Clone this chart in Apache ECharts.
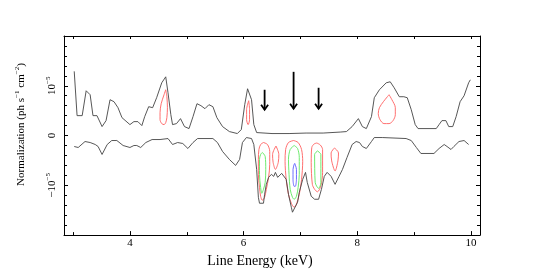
<!DOCTYPE html>
<html><head><meta charset="utf-8">
<script src="https://cdn.jsdelivr.net/npm/echarts@6/dist/echarts.min.js"></script>
<style>html,body{margin:0;padding:0;background:#fff}#c{width:545px;height:273px}</style>
</head><body><div id="c"></div>
<script>
// Energies in keV, normalizations in units of 1e-5 ph s^-1 cm^-2
const xMajorTicks = [4, 6, 8, 10];
const xMinorTicks = [3, 5, 7, 9];
const xTopTicks = [3, 4, 5, 6, 7, 8, 9, 10];
const yTickLabels = { '1': '10', '0': '0', '-1': '−10' };

const upperX = [3.02,3.07,3.16,3.23,3.30,3.35,3.42,3.51,3.58,3.65,3.72,3.79,3.86,4.00,4.07,4.14,4.21,4.26,4.33,4.40,4.47,4.56,4.63,4.67,4.72,4.75,4.82,4.89,4.96,5.04,5.11,5.18,5.25,5.32,5.39,5.46,5.53,5.63,5.75,5.89,5.96,6.02,6.07,6.14,6.18,6.23,6.5,6.8,7.1,7.4,7.7,7.81,7.91,8.02,8.09,8.16,8.25,8.30,8.39,8.51,8.58,8.65,8.74,8.82,8.88,8.95,9.02,9.07,9.39,9.44,9.49,9.56,9.61,9.68,9.74,9.81,9.88,9.96,9.99];
const upperY = [1.29,0.40,0.40,0.90,0.82,0.40,0.40,0.18,0.30,0.72,0.68,0.56,0.36,0.22,0.28,0.28,0.20,0.38,0.58,0.56,0.76,1.06,1.18,0.86,0.42,0.22,0.24,0.34,0.18,0.14,0.38,0.64,0.60,0.54,0.62,0.58,0.36,0.18,0.08,0.04,0.12,0.62,0.94,0.72,0.22,0.06,0.04,0.04,0.05,0.05,0.07,0.08,0.18,0.34,0.18,0.14,0.38,0.76,0.92,1.06,1.08,0.96,0.78,0.78,0.76,0.52,0.22,0.14,0.14,0.22,0.30,0.30,0.18,0.18,0.38,0.68,0.80,1.06,1.12];

const lowerX = [3.02,3.09,3.21,3.30,3.39,3.44,3.51,3.60,3.68,3.77,3.88,4.00,4.07,4.12,4.19,4.28,4.39,4.53,4.67,4.75,4.84,4.93,5.02,5.11,5.19,5.46,5.54,5.63,5.75,5.86,5.93,5.98,6.05,6.14,6.18,6.23,6.26,6.28,6.35,6.37,6.40,6.44,6.49,6.53,6.56,6.60,6.67,6.70,6.75,6.79,6.84,6.86,6.89,6.95,6.98,7.04,7.09,7.12,7.19,7.25,7.32,7.37,7.42,7.47,7.54,7.61,7.68,7.74,7.82,7.91,7.98,8.04,8.09,8.16,8.25,8.30,8.44,8.86,8.95,9.04,9.12,9.35,9.44,9.53,9.58,9.65,9.70,9.79,9.88,9.96];
const lowerY = [-0.22,-0.24,-0.12,-0.14,-0.18,-0.22,-0.38,-0.18,-0.10,-0.10,-0.20,-0.24,-0.20,-0.20,-0.24,-0.14,-0.08,-0.08,-0.06,-0.18,-0.14,-0.16,-0.26,-0.14,-0.06,-0.06,-0.14,-0.32,-0.48,-0.60,-0.48,-0.14,-0.04,-0.06,-0.18,-0.68,-1.24,-1.36,-1.36,-1.18,-0.98,-0.84,-0.78,-0.82,-0.74,-0.84,-0.76,-0.72,-0.88,-1.18,-1.44,-1.54,-1.54,-1.34,-1.14,-0.88,-0.74,-0.94,-1.22,-1.28,-1.28,-1.08,-0.82,-0.74,-0.82,-0.98,-0.82,-0.68,-0.44,-0.18,-0.12,-0.14,-0.22,-0.26,-0.12,-0.04,-0.04,-0.06,-0.10,-0.24,-0.36,-0.36,-0.26,-0.18,-0.22,-0.28,-0.22,-0.12,-0.10,-0.18];

const redContours = [
  [[4.63,0.92],[4.65,0.78],[4.66,0.56],[4.65,0.36],[4.63,0.26],[4.60,0.22],[4.56,0.24],[4.53,0.32],[4.53,0.46],[4.55,0.64],[4.60,0.82]],
  [[6.09,0.70],[6.105,0.52],[6.105,0.32],[6.08,0.22],[6.053,0.32],[6.053,0.52]],
  [[8.56,0.82],[8.61,0.72],[8.67,0.56],[8.67,0.42],[8.63,0.30],[8.56,0.24],[8.47,0.24],[8.40,0.32],[8.37,0.44],[8.39,0.56],[8.46,0.68],[8.53,0.78]],
  [[6.35,-0.14],[6.42,-0.18],[6.46,-0.32],[6.46,-0.58],[6.44,-0.84],[6.40,-1.08],[6.37,-1.24],[6.33,-1.30],[6.30,-1.22],[6.28,-1.04],[6.26,-0.78],[6.26,-0.48],[6.27,-0.28],[6.30,-0.18]],
  [[6.57,-0.21],[6.62,-0.38],[6.61,-0.54],[6.56,-0.68],[6.52,-0.54],[6.51,-0.38]],
  [[6.88,-0.10],[6.96,-0.14],[7.02,-0.28],[7.04,-0.52],[7.02,-0.88],[6.98,-1.18],[6.93,-1.38],[6.89,-1.44],[6.84,-1.36],[6.79,-1.18],[6.75,-0.88],[6.73,-0.52],[6.74,-0.28],[6.79,-0.14]],
  [[7.29,-0.15],[7.35,-0.19],[7.39,-0.28],[7.39,-0.74],[7.36,-1.01],[7.30,-1.13],[7.25,-1.08],[7.21,-0.98],[7.19,-0.54],[7.20,-0.24],[7.24,-0.17]],
  [[7.60,-0.25],[7.67,-0.35],[7.66,-0.51],[7.61,-0.71],[7.55,-0.51],[7.54,-0.35]]
];
const greenContours = [
  [[6.33,-0.34],[6.38,-0.42],[6.39,-0.68],[6.38,-0.94],[6.35,-1.08],[6.32,-1.16],[6.30,-1.04],[6.28,-0.78],[6.28,-0.48],[6.30,-0.38]],
  [[6.89,-0.20],[6.95,-0.26],[6.98,-0.44],[6.98,-0.78],[6.96,-1.04],[6.93,-1.22],[6.89,-1.28],[6.86,-1.24],[6.82,-1.08],[6.80,-0.78],[6.79,-0.48],[6.82,-0.28]],
  [[7.30,-0.31],[7.36,-0.38],[7.36,-0.95],[7.32,-1.06],[7.26,-0.94],[7.25,-0.38]]
];
const blueContours = [
  [[6.90,-0.56],[6.93,-0.68],[6.93,-0.88],[6.91,-1.02],[6.89,-1.02],[6.87,-0.88],[6.87,-0.68],[6.89,-0.58]]
];

const arrowX = [6.37, 6.88, 7.32];
const arrowTop = [0.92, 1.28, 0.96];
const arrowTip = [0.52, 0.54, 0.54];

const F = 'Liberation Serif';
const zip = (xs, ys) => xs.map((x, i) => [x, ys[i]]);
const closeLoop = pts => pts.concat([pts[0]]);

const series = [];
series.push({ type: 'line', data: zip(upperX, upperY), symbol: 'none', lineStyle: { color: '#444', width: 0.9 }, z: 3 });
series.push({ type: 'line', data: zip(lowerX, lowerY), symbol: 'none', lineStyle: { color: '#444', width: 0.9 }, z: 3 });
const addLoops = (loops, color) => loops.forEach(l => series.push({
  type: 'line', data: closeLoop(l), symbol: 'none', smooth: 0.3,
  lineStyle: { color: color, width: 0.9 }, z: 2
}));
addLoops(redContours, '#ff5f5f');
addLoops(greenContours, '#5de85d');
addLoops(blueContours, '#5a5aff');
series.push({
  type: 'custom', z: 4,
  data: arrowX.map((x, i) => [x, arrowTop[i], arrowTip[i]]),
  encode: { x: 0, y: [1, 2] },
  renderItem: (params, api) => {
    const x = api.value(0);
    const a = api.coord([x, api.value(1)]);
    const b = api.coord([x, api.value(2)]);
    return { type: 'group', children: [
      { type: 'line', shape: { x1: a[0], y1: a[1], x2: b[0], y2: b[1] }, style: { stroke: '#000', lineWidth: 1.8 } },
      { type: 'polyline', shape: { points: [[b[0] - 3.5, b[1] - 5], [b[0], b[1]], [b[0] + 3.5, b[1] - 5]] }, style: { stroke: '#000', lineWidth: 1.8, fill: null } }
    ]};
  }
});
series.forEach(s => { s.xAxisIndex = 0; s.yAxisIndex = 0; s.animation = false; s.silent = true; });

const tickLine = { color: '#000', width: 1 };
const option = {
  animation: false,
  grid: { left: 64, right: 65, top: 36, bottom: 37, containLabel: false },
  xAxis: [
    { type: 'value', min: 2.84, max: 10.16, position: 'bottom',
      axisLine: { show: true, onZero: false, lineStyle: tickLine },
      axisTick: { show: true, inside: true, length: 4, customValues: xMajorTicks, lineStyle: tickLine },
      axisLabel: { show: true, customValues: xMajorTicks, color: '#000', fontFamily: F, fontSize: 11, margin: 3 },
      splitLine: { show: false },
      name: 'Line Energy (keV)', nameLocation: 'middle', nameGap: 12,
      nameTextStyle: { fontFamily: F, fontSize: 14, color: '#000', padding: [0, 24, 0, 0], verticalAlign: 'top' } },
    { type: 'value', min: 2.84, max: 10.16, position: 'bottom',
      axisLine: { show: false, onZero: false },
      axisTick: { show: true, inside: true, length: 3, customValues: xMinorTicks, lineStyle: tickLine },
      axisLabel: { show: false, customValues: xMinorTicks },
      splitLine: { show: false } },
    { type: 'value', min: 2.84, max: 10.16, position: 'top',
      axisLine: { show: true, onZero: false, lineStyle: tickLine },
      axisTick: { show: true, inside: true, length: 3, customValues: xTopTicks, lineStyle: tickLine },
      axisLabel: { show: false, customValues: xTopTicks },
      splitLine: { show: false } }
  ],
  yAxis: [
    { type: 'value', min: -2, max: 2, interval: 1, position: 'left',
      axisLine: { show: true, onZero: false, lineStyle: tickLine },
      axisTick: { show: true, inside: true, length: 4, lineStyle: tickLine },
      minorTick: { show: true, splitNumber: 5, length: 3, lineStyle: tickLine },
      splitLine: { show: false }, minorSplitLine: { show: false },
      axisLabel: {
        rotate: 90, margin: 5, color: '#000',
        formatter: v => {
          const k = String(Math.round(v));
          if (!(k in yTickLabels)) return '';
          return k === '0' ? '{n|0}' : '{n|' + yTickLabels[k] + '}{s|−5}';
        },
        rich: {
          n: { fontFamily: F, fontSize: 11, color: '#000', lineHeight: 14, verticalAlign: 'middle' },
          s: { fontFamily: F, fontSize: 7, color: '#000', lineHeight: 14, verticalAlign: 'top' }
        }
      },
      name: '{a|Normalization (ph s}{s|−1}{a| cm}{s|−2}{a|)}',
      nameLocation: 'middle', nameRotate: 90, nameGap: 36,
      nameTextStyle: {
        padding: [0, 0, 0, 22],
        rich: {
          a: { fontFamily: F, fontSize: 11, color: '#000', lineHeight: 14, verticalAlign: 'middle' },
          s: { fontFamily: F, fontSize: 7, color: '#000', lineHeight: 14, verticalAlign: 'top' }
        }
      } },
    { type: 'value', min: -2, max: 2, interval: 1, position: 'right',
      axisLine: { show: true, onZero: false, lineStyle: tickLine },
      axisTick: { show: true, inside: true, length: 4, lineStyle: tickLine },
      minorTick: { show: true, splitNumber: 5, length: 3, lineStyle: tickLine },
      splitLine: { show: false }, minorSplitLine: { show: false },
      axisLabel: { show: false } }
  ],
  series: series
};
const chart = echarts.init(document.getElementById('c'));
chart.setOption(option);
</script>
</body></html>
